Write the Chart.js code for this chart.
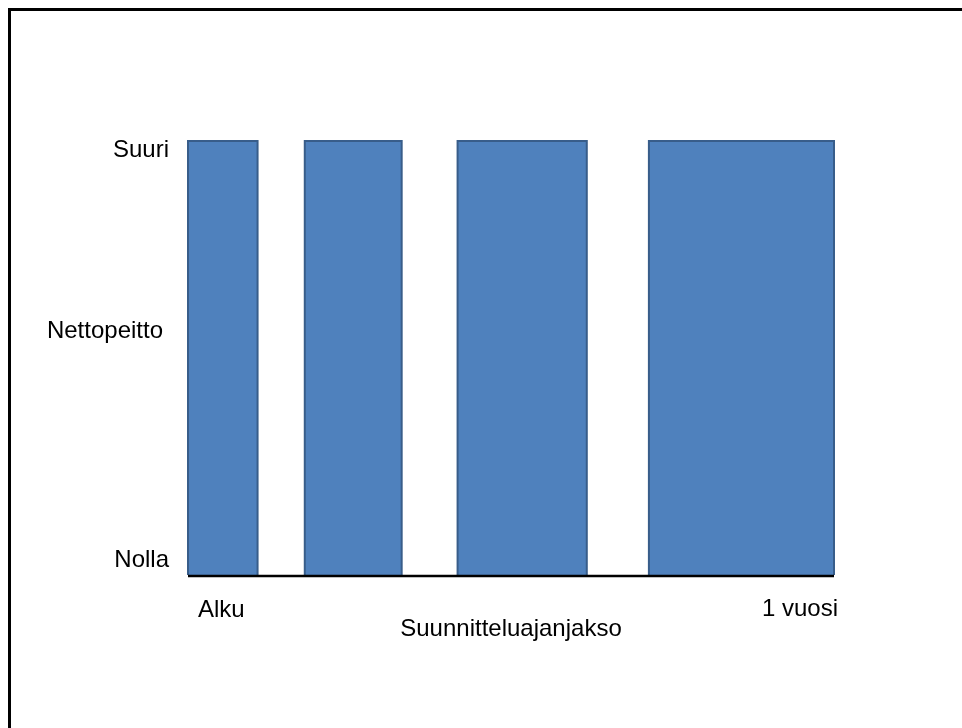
<!DOCTYPE html>
<html>
<head>
<meta charset="utf-8">
<script src="https://cdn.jsdelivr.net/npm/chart.js@4/dist/chart.umd.min.js"></script>
<style>
  html, body { margin: 0; padding: 0; background: #fff; overflow: hidden; }
  #wrap { position: relative; width: 962px; height: 728px; }
  #frame {
    position: absolute; left: 8px; top: 8px; right: -10px; bottom: -10px;
    border-left: 3px solid #000; border-top: 3px solid #000; pointer-events: none;
  }
  canvas { position: absolute; left: 0; top: 0; }
</style>
</head>
<body>
<div id="wrap">
  <canvas id="chart" width="962" height="728"></canvas>
  <div id="frame"></div>
</div>
<script>
// Planning periods across one year (weeks from start) and their net coverage level (0 = Nolla, 1 = Suuri)
const periods = ['Jakso 1', 'Jakso 2', 'Jakso 3', 'Jakso 4'];
const periodStart = [0, 9.4, 21.7, 37.1];
const periodEnd = [5.6, 17.2, 32.1, 52];
const coverage = [1, 1, 1, 1];

// Axis wording
const yLevelLabels = ['Nolla', 'Suuri'];
const yTitle = 'Nettopeitto';
const xEndLabels = ['Alku', '1 vuosi'];
const xTitle = 'Suunnitteluajanjakso';
const yearWeeks = 52;

const FONT = '24px "Liberation Sans", Arial, sans-serif';

// Each period is drawn as a filled rectangle from the baseline up to its coverage level
const datasets = periods.map((name, i) => ({
  label: name,
  data: [
    { x: periodStart[i], y: 0 },
    { x: periodStart[i], y: coverage[i] },
    { x: periodEnd[i], y: coverage[i] },
    { x: periodEnd[i], y: 0 }
  ],
  fill: 'origin',
  backgroundColor: '#4F81BD',
  borderColor: '#385D8A',
  borderWidth: 2,
  pointRadius: 0,
  tension: 0,
  clip: false
}));

const axisText = {
  id: 'axisText',
  afterDatasetsDraw(chart) {
    const { ctx, scales: { x, y } } = chart;
    const x0 = x.getPixelForValue(0);
    const x1 = x.getPixelForValue(yearWeeks);
    const yLow = y.getPixelForValue(0);
    const yHigh = y.getPixelForValue(1);

    ctx.save();
    // baseline axis
    ctx.strokeStyle = '#000';
    ctx.lineWidth = 2.5;
    ctx.beginPath();
    ctx.moveTo(x0, yLow + 1);
    ctx.lineTo(x1, yLow + 1);
    ctx.stroke();

    ctx.fillStyle = '#000';
    ctx.font = FONT;
    ctx.textBaseline = 'alphabetic';

    // level labels on the left
    ctx.textAlign = 'right';
    ctx.fillText(yLevelLabels[1], x0 - 19, yHigh + 16);
    ctx.fillText(yLevelLabels[0], x0 - 19, yLow - 8);
    ctx.fillText(yTitle, x0 - 25, (yHigh + yLow) / 2 - 20);

    // period ends and title below
    ctx.textAlign = 'left';
    ctx.fillText(xEndLabels[0], x0 + 10, yLow + 42);
    ctx.textAlign = 'right';
    ctx.fillText(xEndLabels[1], x1 + 4, yLow + 41);
    ctx.textAlign = 'center';
    ctx.fillText(xTitle, (x0 + x1) / 2, yLow + 61);
    ctx.restore();
  }
};

new Chart(document.getElementById('chart'), {
  type: 'line',
  data: { datasets },
  options: {
    responsive: false,
    animation: false,
    events: [],
    layout: { padding: { left: 188, right: 128, top: 141, bottom: 153 } },
    plugins: { legend: { display: false }, tooltip: { enabled: false } },
    scales: {
      x: { type: 'linear', min: 0, max: yearWeeks, display: false },
      y: { type: 'linear', min: 0, max: 1, display: false }
    }
  },
  plugins: [axisText]
});
</script>
</body>
</html>
